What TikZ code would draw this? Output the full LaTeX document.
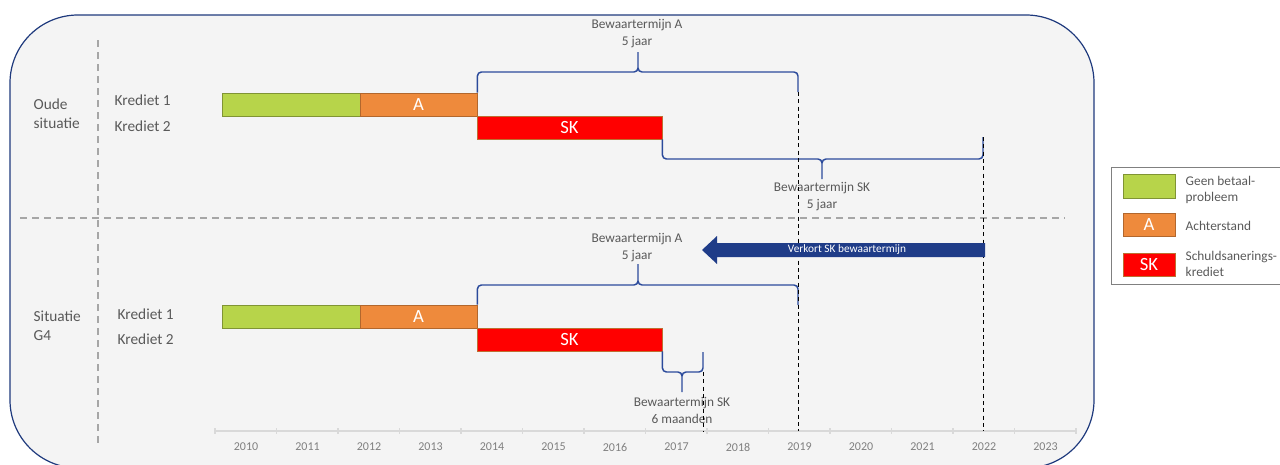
\documentclass[tikz,border=0pt]{standalone}
\usepackage{fontspec}
\setmainfont{Carlito}
\usetikzlibrary{positioning,fit}
\definecolor{kader}{HTML}{1F3A7D}
\definecolor{vlak}{HTML}{F4F4F4}
\definecolor{groen}{HTML}{B7D44A}
\definecolor{oranje}{HTML}{EE8A3C}
\definecolor{rood}{HTML}{FF0000}
\definecolor{accol}{HTML}{2B4A9B}
\definecolor{pijl}{HTML}{1F3C88}
\definecolor{tekst}{HTML}{595959}
\definecolor{raster}{HTML}{A6A6A6}
\definecolor{as}{HTML}{D9D9D9}

\begin{document}
\begin{tikzpicture}[
  x=0.75pt, y=-0.75pt,
  font=\fontsize{11.5}{14.25}\selectfont, text=tekst,
  balk/.style={rectangle, inner sep=0pt, line width=0.6pt,
    label={[text=white, font=\fontsize{14}{16}\selectfont]center:#1}},
  balk/.default={},
  rij/.style={anchor=west, align=left},
  termijn/.style={align=center, font=\fontsize{10}{12.75}\selectfont},
  accolade/.style={draw=accol, line width=1.1pt, rounded corners=3pt},
  stippel/.style={black, line width=0.6pt, dash pattern=on 3pt off 2.5pt},
  scheiding/.style={raster, line width=1pt, dash pattern=on 5pt off 4pt},
  jaar/.style={font=\fontsize{9}{10}\selectfont, text=gray},
  legtekst/.style={anchor=west, align=left, font=\fontsize{10}{12.4}\selectfont}]
  \useasboundingbox (0,0) rectangle (1280,464);
  % kader en scheidingslijnen
  \draw[kader, fill=vlak, line width=0.9pt, rounded corners=51pt] (10,15) rectangle (1094,468);
  \draw[scheiding] (98,40) -- (98,445);
  \draw[scheiding] (20,218) -- (1065,218);
  % tijdas
  \draw[as, line width=0.8pt] (215,431) -- (1076,431);
  \foreach \i in {0,...,14}
    \draw[as, line width=0.8pt] ({215+61.5*\i},428) -- ++(0,6);
  \foreach \j [count=\i from 0] in {2010,...,2023}
    \node[jaar] (j\j) at ({246+61.5*\i},447) {\j};
  % oude situatie
  \node[rij] (oud) at (29,113.5) {Oude\\situatie};
  \node[rij] (oudk1) at (110,100) {Krediet 1};
  \node[rij] (oudk2) at (110,126) {Krediet 2};
  \node[balk, fill=groen, draw=groen!70!black, fit={(222,93) (360,116)}] (oudg) {};
  \node[balk=A, fill=oranje, draw=oranje!75!black, fit={(360,93) (477,116)}] (ouda) {};
  \node[balk=SK, fill=rood, draw=oranje!80!black, fit={(477,116) (662,139)}] (oudsk) {};
  \coordinate (oudeindA) at (798,92);
  \coordinate (oudeindSK) at (983,137);
  \draw[accolade] (ouda.north east) |- (638,72) -- (638,52) (638,52) -- (638,72) -| (oudeindA);
  \node[termijn] (oudtA) at (637,34) {Bewaartermijn A\\5 jaar};
  \draw[accolade] (oudsk.south east) |- (822,159) -- (822,179) (822,179) -- (822,159) -| (oudeindSK);
  \node[termijn] (oudtSK) at (822,197) {Bewaartermijn SK\\5 jaar};
  % situatie G4
  \node[rij] (g4) at (29,326) {Situatie\\G4};
  \node[rij] (g4k1) at (113,314) {Krediet 1};
  \node[rij] (g4k2) at (113,339) {Krediet 2};
  \node[balk, fill=groen, draw=groen!70!black, fit={(222,305) (360,328)}] (g4g) {};
  \node[balk=A, fill=oranje, draw=oranje!75!black, fit={(360,305) (477,328)}] (g4a) {};
  \node[balk=SK, fill=rood, draw=oranje!80!black, fit={(477,328) (662,351)}] (g4sk) {};
  \coordinate (g4eindA) at (798,305);
  \coordinate (g4eindSK) at (703,352);
  \draw[accolade] (g4a.north east) |- (638,285) -- (638,264) (638,264) -- (638,285) -| (g4eindA);
  \node[termijn] (g4tA) at (637,248) {Bewaartermijn A\\5 jaar};
  \draw[accolade] (g4sk.south east) |- (682,372) -- (682,392) (682,392) -- (682,372) -| (g4eindSK);
  \node[termijn] (g4tSK) at (682,410) {Bewaartermijn SK\\6 maanden};
  % stippellijnen naar de tijdas
  \draw[stippel] (oudeindA) -- (798,431);
  \draw[stippel] (oudeindSK) -- (983,431);
  \draw[stippel] (703,372) -- (703,431);
  % verkorting
  \fill[pijl] (985,243) -- (717,243) -- (717,236) -- (702,250) -- (717,264) -- (717,257) -- (985,257) -- cycle;
  \node[text=white, font=\fontsize{8.5}{10}\selectfont] (verkort) at (847,250) {Verkort SK bewaartermijn};
  % legenda
  \draw[gray, line width=0.6pt] (1111,167) rectangle (1290,284);
  \node[balk, fill=groen, draw=groen!70!black, fit={(1123,174) (1175,198)}] (leg1) {};
  \node[balk=A, fill=oranje, draw=oranje!75!black, fit={(1123,213) (1175,236)}] (leg2) {};
  \node[balk=SK, fill=rood, draw=oranje!80!black, fit={(1123,253) (1175,276)}] (leg3) {};
  \node[legtekst] (legt1) at (1181,190) {Geen betaal-\\probleem};
  \node[legtekst] (legt2) at (1181,226) {Achterstand};
  \node[legtekst] (legt3) at (1181,264) {Schuldsanerings-\\krediet};
\end{tikzpicture}
\end{document}
